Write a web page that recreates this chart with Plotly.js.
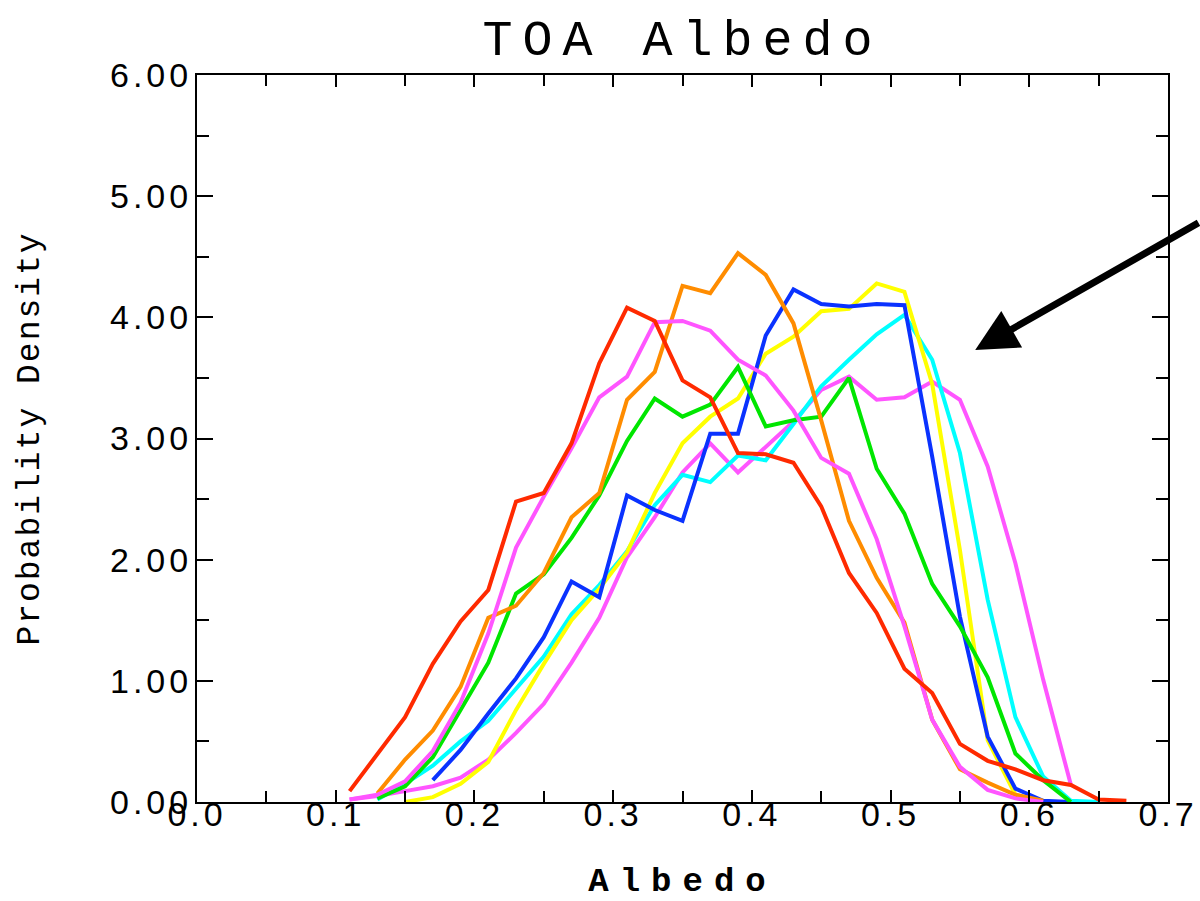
<!DOCTYPE html>
<html>
<head>
<meta charset="utf-8">
<script src="https://cdn.plot.ly/plotly-3.0.1.min.js"></script>
<style>
  html, body { margin: 0; padding: 0; background: #fff; }
  #chart { width: 1200px; height: 901px; }
  .xtick text, .ytick text { letter-spacing: 4px; }
  .gtitle { letter-spacing: 10px; }
  .xtitle { letter-spacing: 11px; }
  .ytitle { letter-spacing: 2px; }
</style>
</head>
<body>
<div id="chart"></div>
<script>
// Albedo bin centres
const albedo = [0.11,0.13,0.15,0.17,0.19,0.21,0.23,0.25,0.27,0.29,0.31,0.33,0.35,0.37,0.39,0.41,0.43,0.45,0.47,0.49,0.51,0.53,0.55,0.57,0.59,0.61,0.63,0.65,0.67];

// Probability density per curve (null = not drawn)
const redCurve     = [0.09,0.40,0.70,1.14,1.49,1.75,2.48,2.55,2.96,3.62,4.08,3.97,3.48,3.34,2.88,2.87,2.80,2.44,1.89,1.56,1.10,0.90,0.48,0.34,0.27,0.18,0.14,0.02,0.01];
const orangeCurve  = [null,0.07,0.35,0.59,0.95,1.52,1.62,1.89,2.35,2.55,3.32,3.55,4.26,4.20,4.53,4.35,3.95,3.15,2.32,1.85,1.48,0.68,0.27,0.16,0.06,0.01,null,null,null];
const magentaCurveA= [0.02,0.06,0.17,0.42,0.82,1.39,2.10,2.52,2.92,3.34,3.51,3.96,3.97,3.89,3.65,3.52,3.23,2.84,2.71,2.17,1.45,0.68,0.29,0.10,0.03,0.00,null,null,null];
const greenCurve   = [null,0.03,0.13,0.37,0.76,1.15,1.72,1.88,2.18,2.53,2.98,3.33,3.18,3.28,3.59,3.10,3.15,3.18,3.50,2.75,2.38,1.80,1.45,1.03,0.40,0.18,0.00,null,null];
const yellowCurve  = [null,null,0.00,0.04,0.15,0.33,0.76,1.14,1.50,1.76,2.06,2.55,2.96,3.18,3.33,3.70,3.84,4.05,4.07,4.28,4.21,3.45,2.08,0.51,0.06,0.00,null,null,null];
const blueCurve    = [null,null,null,0.18,0.43,0.73,1.02,1.36,1.82,1.69,2.53,2.41,2.32,3.04,3.04,3.85,4.23,4.11,4.09,4.11,4.10,2.85,1.53,0.54,0.11,0.01,0.00,null,null];
const cyanCurve    = [null,0.02,0.15,0.30,0.50,0.67,0.93,1.20,1.55,1.79,2.07,2.45,2.70,2.64,2.86,2.82,3.12,3.43,3.65,3.86,4.02,3.65,2.88,1.67,0.70,0.21,0.01,0.00,null];
const magentaCurveB= [0.02,0.05,0.09,0.13,0.20,0.35,0.57,0.81,1.15,1.52,2.02,2.35,2.72,2.96,2.72,2.93,3.14,3.40,3.51,3.32,3.34,3.47,3.32,2.77,1.97,1.01,0.14,null,null];

const seriesList = [
  {y: magentaCurveB, color: '#ff55ff'},
  {y: cyanCurve,     color: '#00ffff'},
  {y: yellowCurve,   color: '#ffff00'},
  {y: blueCurve,     color: '#0a32ff'},
  {y: greenCurve,    color: '#00e600'},
  {y: orangeCurve,   color: '#ff8c00'},
  {y: magentaCurveA, color: '#ff55ff'},
  {y: redCurve,      color: '#ff2a00'}
];

const traces = seriesList.map(s => ({
  x: albedo, y: s.y, type: 'scatter', mode: 'lines',
  line: {color: s.color, width: 4},
  hoverinfo: 'skip', showlegend: false
}));

const tickFont = {family: 'Liberation Sans, Arial, sans-serif', size: 34, color: '#000'};
const titleFontFamily = 'Liberation Mono, DejaVu Sans Mono, monospace';

const layout = {
  width: 1200, height: 901,
  margin: {l: 197, r: 32, t: 75, b: 99, pad: 0},
  paper_bgcolor: '#fff', plot_bgcolor: '#fff',
  showlegend: false,
  title: {
    text: 'TOA Albedo',
    font: {family: titleFontFamily, size: 50, color: '#000'},
    x: 0.5, xanchor: 'center', xref: 'paper',
    y: 0.958, yanchor: 'middle', yref: 'container'
  },
  xaxis: {
    range: [0, 0.7], dtick: 0.1, tick0: 0, tickformat: '.1f',
    showgrid: false, zeroline: false,
    showline: true, linecolor: '#000', linewidth: 2, mirror: 'ticks',
    ticks: 'inside', ticklen: 12, tickwidth: 2, tickcolor: '#000',
    minor: {dtick: 0.05, ticks: 'inside', ticklen: 11, tickwidth: 2, tickcolor: '#000', showgrid: false},
    tickfont: tickFont, ticklabelstandoff: -19,
    title: {text: 'Albedo', font: {family: titleFontFamily, size: 34, color: '#000', weight: 'bold'}, standoff: 50}
  },
  yaxis: {
    range: [0, 6], dtick: 1, tick0: 0, tickformat: '.2f',
    showgrid: false, zeroline: false,
    showline: true, linecolor: '#000', linewidth: 2, mirror: 'ticks',
    ticks: 'inside', ticklen: 16, tickwidth: 2, tickcolor: '#000',
    minor: {dtick: 0.5, ticks: 'inside', ticklen: 12, tickwidth: 2, tickcolor: '#000', showgrid: false},
    tickfont: tickFont, ticklabelstandoff: -4,
    title: {text: 'Probability Density', font: {family: titleFontFamily, size: 33, color: '#000'}, standoff: 60}
  },
  annotations: [{
    x: 0.561, y: 3.73, xref: 'x', yref: 'y',
    text: '', showarrow: true,
    ax: 235, ay: -128, axref: 'pixel', ayref: 'pixel',
    arrowhead: 2, arrowsize: 1.2, arrowwidth: 7, arrowcolor: '#000'
  }]
};

Plotly.newPlot('chart', traces, layout, {displayModeBar: false, staticPlot: true});
</script>
</body>
</html>
